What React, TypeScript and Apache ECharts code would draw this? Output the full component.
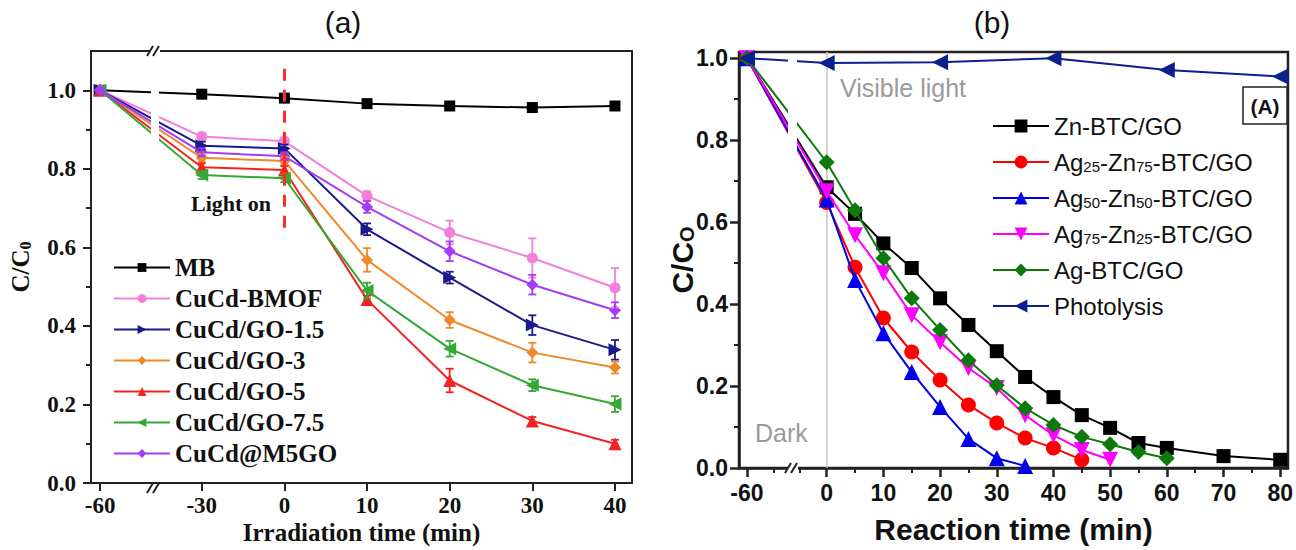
import React, { useEffect, useRef } from "react";
import * as echarts from "echarts";

// ---------- Panel (a) data ----------
const timeA = [-60, -30, 0, 10, 20, 30, 40];
const namesA = ["MB", "CuCd-BMOF", "CuCd/GO-1.5", "CuCd/GO-3", "CuCd/GO-5", "CuCd/GO-7.5", "CuCd@M5GO"];
const mbA = [1.0, 0.99, 0.98, 0.966, 0.96, 0.956, 0.96];
const bmofA = [1.0, 0.882, 0.87, 0.731, 0.638, 0.573, 0.497];
const go15A = [1.0, 0.859, 0.852, 0.646, 0.523, 0.402, 0.339];
const go3A = [1.0, 0.828, 0.82, 0.568, 0.415, 0.332, 0.294];
const go5A = [1.0, 0.804, 0.797, 0.467, 0.261, 0.158, 0.1];
const go75A = [1.0, 0.784, 0.776, 0.49, 0.342, 0.249, 0.201];
const m5goA = [1.0, 0.842, 0.832, 0.703, 0.59, 0.505, 0.44];
const errBmofA = [0, 0.01, 0.01, 0.012, 0.03, 0.05, 0.05];
const err15A = [0, 0.01, 0.01, 0.015, 0.015, 0.025, 0.025];
const err3A = [0, 0.01, 0.01, 0.03, 0.02, 0.025, 0.015];
const err5A = [0, 0.01, 0.01, 0.01, 0.03, 0.01, 0.01];
const err75A = [0, 0.01, 0.01, 0.02, 0.02, 0.015, 0.02];
const errM5A = [0, 0.01, 0.01, 0.015, 0.025, 0.025, 0.02];
const yTicksA = [0, 0.2, 0.4, 0.6, 0.8, 1.0];
const yMinorA = [0.1, 0.3, 0.5, 0.7, 0.9];

// ---------- Panel (b) data ----------
const namesB = ["Zn-BTC/GO", "Ag25-Zn75-BTC/GO", "Ag50-Zn50-BTC/GO", "Ag75-Zn25-BTC/GO", "Ag-BTC/GO", "Photolysis"];
const timeZn = [-60, 0, 5, 10, 15, 20, 25, 30, 35, 40, 45, 50, 55, 60, 70, 80];
const valZn = [1.0, 0.685, 0.62, 0.548, 0.488, 0.414, 0.349, 0.285, 0.222, 0.173, 0.129, 0.098, 0.061, 0.049, 0.029, 0.02];
const timeAg25 = [-60, 0, 5, 10, 15, 20, 25, 30, 35, 40, 45];
const valAg25 = [1.0, 0.648, 0.49, 0.366, 0.283, 0.215, 0.154, 0.11, 0.073, 0.049, 0.02];
const timeAg50 = [-60, 0, 5, 10, 15, 20, 25, 30, 35];
const valAg50 = [1.0, 0.655, 0.459, 0.329, 0.234, 0.149, 0.071, 0.024, 0.005];
const timeAg75 = [-60, 0, 5, 10, 15, 20, 25, 30, 35, 40, 45, 50];
const valAg75 = [1.0, 0.675, 0.568, 0.475, 0.373, 0.307, 0.244, 0.195, 0.129, 0.08, 0.044, 0.02];
const timeAgB = [-60, 0, 5, 10, 15, 20, 25, 30, 35, 40, 45, 50, 55, 60];
const valAgB = [1.0, 0.746, 0.629, 0.512, 0.414, 0.337, 0.263, 0.202, 0.146, 0.105, 0.076, 0.058, 0.039, 0.024];
const timePh = [-60, 0, 20, 40, 60, 80];
const valPh = [1.0, 0.988, 0.99, 1.0, 0.971, 0.955];
const xTicksB = [-60, 0, 10, 20, 30, 40, 50, 60, 70, 80];
const xMinorB = [-40, -20, 5, 15, 25, 35, 45, 55, 65, 75];
const yTicksB = [0, 0.2, 0.4, 0.6, 0.8, 1.0];
const yMinorB = [0.1, 0.3, 0.5, 0.7, 0.9];

// axis-break compression of the time axes
function breakA(t: number) {
  if (t >= 0) return t;
  if (t >= -30) return t / 3;
  return -10 + (t + 30) * 0.41;
}
function breakB(t: number) {
  return t >= 0 ? t : (t * 14.06) / 60;
}
function labelFor(v: number, list: number[], f: (t: number) => number) {
  for (const t of list) if (Math.abs(f(t) - v) < 1e-6) return String(t);
  return "";
}

const SERIF = "Liberation Serif";
const SANS = "Liberation Sans";
const AX = "#222";

export default function App() {
  const ref = useRef<HTMLDivElement>(null);
  useEffect(() => {
    if (!ref.current) return;
    const chart = echarts.init(ref.current, undefined, { renderer: "svg" });

    const colorsA = ["#000000", "#f27fd9", "#1a1a8c", "#f0892a", "#f52222", "#35a935", "#a23cf5"];
    const valsA = [mbA, bmofA, go15A, go3A, go5A, go75A, m5goA];
    const errsA = [null, errBmofA, err15A, err3A, err5A, err75A, errM5A];
    const symA = ["rect", "circle", "triangle", "diamond", "triangle", "triangle", "diamond"];
    const rotA = [0, 0, -90, 0, 0, 90, 0];
    const sizeA = [11, 11, 13, 12, 13, 13, 12];

    const seriesA: any[] = namesA.map((n, i) => ({
      type: "line",
      name: n,
      xAxisIndex: 0,
      yAxisIndex: 0,
      data: timeA.map((t, j) => [breakA(t), valsA[i][j]]),
      symbol: symA[i],
      symbolRotate: rotA[i],
      symbolSize: sizeA[i],
      itemStyle: { color: colorsA[i] },
      lineStyle: { color: colorsA[i], width: 2 },
      z: 2 + i * 0.01,
      ...(i === 0
        ? {
            markLine: {
              silent: true,
              symbol: "none",
              label: { show: false },
              lineStyle: { color: "#ff2a2a", width: 3, type: [12, 9] },
              data: [[{ coord: [breakA(0), 1.055] }, { coord: [breakA(0), 0.648] }]],
            },
          }
        : {}),
    }));

    const errSeries: any[] = [];
    errsA.forEach((errs, i) => {
      if (!errs) return;
      const col = colorsA[i];
      errSeries.push({
        type: "custom",
        xAxisIndex: 0,
        yAxisIndex: 0,
        z: 3,
        silent: true,
        data: timeA.map((t, j) => [breakA(t), valsA[i][j], errs[j]]).filter((d) => d[2] > 0),
        renderItem: (params: any, api: any) => {
          const x = api.value(0), y = api.value(1), e = api.value(2);
          const top = api.coord([x, y + e]);
          const bot = api.coord([x, y - e]);
          const w = 4;
          const st = { stroke: col, lineWidth: 1.8 };
          return {
            type: "group",
            children: [
              { type: "line", shape: { x1: top[0], y1: top[1], x2: bot[0], y2: bot[1] }, style: st },
              { type: "line", shape: { x1: top[0] - w, y1: top[1], x2: top[0] + w, y2: top[1] }, style: st },
              { type: "line", shape: { x1: bot[0] - w, y1: bot[1], x2: bot[0] + w, y2: bot[1] }, style: st },
            ],
          };
        },
      });
    });

    const colorsB = ["#000000", "#ff0000", "#0000ee", "#ff00ff", "#0b7a0b", "#0b1f8f"];
    const timesB = [timeZn, timeAg25, timeAg50, timeAg75, timeAgB, timePh];
    const valsB = [valZn, valAg25, valAg50, valAg75, valAgB, valPh];
    const symB = ["rect", "circle", "triangle", "triangle", "diamond", "triangle"];
    const rotB = [0, 0, 0, 180, 0, 90];
    const sizeB = [14, 15, 16, 16, 16, 16];
    const seriesB: any[] = namesB.map((n, i) => ({
      type: "line",
      name: n,
      xAxisIndex: 1,
      yAxisIndex: 2,
      data: timesB[i].map((t, j) => [breakB(t), valsB[i][j]]),
      symbol: symB[i],
      symbolRotate: rotB[i],
      symbolSize: sizeB[i],
      itemStyle: { color: colorsB[i] },
      lineStyle: { color: colorsB[i], width: 2 },
      z: 2 + i * 0.01,
      ...(i === 5
        ? {
            markLine: {
              silent: true,
              symbol: "none",
              z: 1,
              label: { show: false },
              lineStyle: { color: "#c4c4c4", width: 1.5, type: "solid" },
              data: [{ xAxis: breakB(0) }],
            },
          }
        : {}),
    }));

    const richNames: Record<string, string> = {
      "Ag25-Zn75-BTC/GO": "Ag{s|25}-Zn{s|75}-BTC/GO",
      "Ag50-Zn50-BTC/GO": "Ag{s|50}-Zn{s|50}-BTC/GO",
      "Ag75-Zn25-BTC/GO": "Ag{s|75}-Zn{s|25}-BTC/GO",
    };

    const axisLineA = { show: true, onZero: false, lineStyle: { color: AX, width: 2 } };
    const axisLineB = { show: true, onZero: false, lineStyle: { color: AX, width: 2.5 } };
    const hiddenLine = { show: false, onZero: false };

    const breakMark = (cx: number, cy: number) => [
      { type: "rect", z: 100, shape: { x: cx - 5, y: cy - 4, width: 10, height: 8 }, style: { fill: "#fff" } },
      { type: "line", z: 101, shape: { x1: cx - 8, y1: cy + 5, x2: cx - 2, y2: cy - 5 }, style: { stroke: AX, lineWidth: 2 } },
      { type: "line", z: 101, shape: { x1: cx - 2, y1: cy + 5, x2: cx + 4, y2: cy - 5 }, style: { stroke: AX, lineWidth: 2 } },
    ];

    const option: any = {
      animation: false,
      backgroundColor: "#fff",
      grid: [
        { left: 91, top: 51, width: 541, height: 437, show: true, borderColor: AX, borderWidth: 2 },
        { left: 739, top: 52, width: 551, height: 416, show: true, borderColor: AX, borderWidth: 2.5 },
      ],
      xAxis: [
        {
          type: "value",
          gridIndex: 0,
          position: "bottom",
          min: -23.4,
          max: 42.06,
          axisLine: axisLineA,
          splitLine: { show: false },
          axisTick: { customValues: timeA.map(breakA), length: 8, lineStyle: { color: AX, width: 2 } },
          axisLabel: {
            customValues: timeA.map(breakA),
            formatter: (v: number) => labelFor(v, timeA, breakA),
            fontFamily: SERIF,
            fontWeight: "bold",
            fontSize: 23,
            color: "#111",
            margin: 11,
          },
          name: "Irradiation time (min)",
          nameLocation: "middle",
          nameGap: 37,
          nameMoveOverlap: false,
          nameTextStyle: { fontFamily: SERIF, fontWeight: "bold", fontSize: 25, color: "#111" },
        },
        {
          type: "value",
          gridIndex: 1,
          position: "bottom",
          min: -15.47,
          max: 81.37,
          axisLine: axisLineB,
          splitLine: { show: false },
          axisTick: { customValues: xTicksB.map(breakB), length: 9, lineStyle: { color: AX, width: 2.5 } },
          axisLabel: {
            customValues: xTicksB.map(breakB),
            formatter: (v: number) => labelFor(v, xTicksB, breakB),
            fontFamily: SANS,
            fontWeight: "bold",
            fontSize: 23,
            color: "#111",
            margin: 13,
          },
          name: "Reaction time (min)",
          nameLocation: "middle",
          nameGap: 46,
          nameMoveOverlap: false,
          nameTextStyle: { fontFamily: SANS, fontWeight: "bold", fontSize: 30, color: "#111" },
        },
        {
          type: "value",
          gridIndex: 1,
          position: "bottom",
          min: -15.47,
          max: 81.37,
          axisLine: hiddenLine,
          splitLine: { show: false },
          axisTick: { customValues: xMinorB.map(breakB), length: 5, lineStyle: { color: AX, width: 2 } },
          axisLabel: { show: false },
        },
      ],
      yAxis: [
        {
          type: "value",
          gridIndex: 0,
          position: "left",
          min: 0,
          max: 1.1,
          axisLine: axisLineA,
          splitLine: { show: false },
          axisTick: { customValues: yTicksA, length: 8, lineStyle: { color: AX, width: 2 } },
          axisLabel: {
            customValues: yTicksA,
            formatter: (v: number) => v.toFixed(1),
            fontFamily: SERIF,
            fontWeight: "bold",
            fontSize: 23,
            color: "#111",
            margin: 15,
          },
          name: "C/C{s|0}",
          nameLocation: "middle",
          nameRotate: 90,
          nameGap: 58,
          nameMoveOverlap: false,
          nameTextStyle: {
            fontFamily: SERIF,
            fontWeight: "bold",
            fontSize: 25,
            color: "#111",
            rich: { s: { fontFamily: SERIF, fontWeight: "bold", fontSize: 16, lineHeight: 8, verticalAlign: "bottom", color: "#111" } },
          },
        },
        {
          type: "value",
          gridIndex: 0,
          position: "left",
          min: 0,
          max: 1.1,
          axisLine: hiddenLine,
          splitLine: { show: false },
          axisTick: { customValues: yMinorA, length: 5, lineStyle: { color: AX, width: 2 } },
          axisLabel: { show: false },
        },
        {
          type: "value",
          gridIndex: 1,
          position: "left",
          min: 0,
          max: 1.015,
          axisLine: axisLineB,
          splitLine: { show: false },
          axisTick: { customValues: yTicksB, length: 9, lineStyle: { color: AX, width: 2.5 } },
          axisLabel: {
            customValues: yTicksB,
            formatter: (v: number) => v.toFixed(1),
            fontFamily: SANS,
            fontWeight: "bold",
            fontSize: 23,
            color: "#111",
            margin: 11,
          },
          name: "C/C{s|O}",
          nameLocation: "middle",
          nameRotate: 90,
          nameGap: 42,
          nameMoveOverlap: false,
          nameTextStyle: {
            fontFamily: SANS,
            fontWeight: "bold",
            fontSize: 30,
            color: "#111",
            rich: { s: { fontFamily: SANS, fontWeight: "bold", fontSize: 20, lineHeight: 10, verticalAlign: "bottom", color: "#111" } },
          },
        },
        {
          type: "value",
          gridIndex: 1,
          position: "left",
          min: 0,
          max: 1.015,
          axisLine: hiddenLine,
          splitLine: { show: false },
          axisTick: { customValues: yMinorB, length: 5, lineStyle: { color: AX, width: 2 } },
          axisLabel: { show: false },
        },
      ],
      legend: [
        {
          data: namesA,
          orient: "vertical",
          left: 108,
          top: 250,
          itemWidth: 56,
          itemHeight: 11,
          itemGap: 6,
          textStyle: { fontFamily: SERIF, fontWeight: "bold", fontSize: 25, lineHeight: 25, color: "#111" },
        },
        {
          data: namesB,
          orient: "vertical",
          left: 987,
          top: 108,
          itemWidth: 56,
          itemHeight: 16,
          itemGap: 10,
          formatter: (name: string) => richNames[name] ?? name,
          textStyle: {
            fontFamily: SANS,
            fontSize: 24,
            lineHeight: 26,
            color: "#111",
            rich: { s: { fontFamily: SANS, fontSize: 15, lineHeight: 14, padding: [9, 0, 0, 0], verticalAlign: "middle", color: "#111" } },
          },
        },
      ],
      series: [...seriesA, ...errSeries, ...seriesB],
      graphic: [
        { type: "text", z: 100, x: 343, y: 22, style: { text: "(a)", fontFamily: SANS, fontSize: 30, fill: "#111", align: "center", verticalAlign: "middle" } },
        { type: "text", z: 100, x: 992, y: 22, style: { text: "(b)", fontFamily: SANS, fontSize: 30, fill: "#111", align: "center", verticalAlign: "middle" } },
        { type: "text", z: 100, x: 231, y: 203, style: { text: "Light on", fontFamily: SERIF, fontWeight: "bold", fontSize: 22, fill: "#111", align: "center", verticalAlign: "middle" } },
        { type: "text", z: 100, x: 840, y: 88, style: { text: "Visible light", fontFamily: SANS, fontSize: 25, fill: "#9a9a9a", align: "left", verticalAlign: "middle" } },
        { type: "text", z: 100, x: 755, y: 433, style: { text: "Dark", fontFamily: SANS, fontSize: 25, fill: "#9a9a9a", align: "left", verticalAlign: "middle" } },
        { type: "rect", z: 100, shape: { x: 1243, y: 87, width: 44, height: 37 }, style: { fill: "#fff", stroke: "#222", lineWidth: 1.5 } },
        { type: "text", z: 101, x: 1265, y: 106, style: { text: "(A)", fontFamily: SANS, fontWeight: "bold", fontSize: 21, fill: "#111", align: "center", verticalAlign: "middle" } },
        // gaps in the lines at the axis breaks
        { type: "rect", z: 100, shape: { x: 151, y: 80, width: 8, height: 66 }, style: { fill: "#fff" } },
        { type: "rect", z: 100, shape: { x: 788, y: 55, width: 9, height: 96 }, style: { fill: "#fff" } },
        ...breakMark(155, 488),
        ...breakMark(155, 51),
        ...breakMark(793, 468),
      ],
    };

    chart.setOption(option);
    return () => chart.dispose();
  }, []);

  return <div ref={ref} style={{ position: "fixed", left: 0, top: 0, width: 1296, height: 550, background: "#fff" }} />;
}
